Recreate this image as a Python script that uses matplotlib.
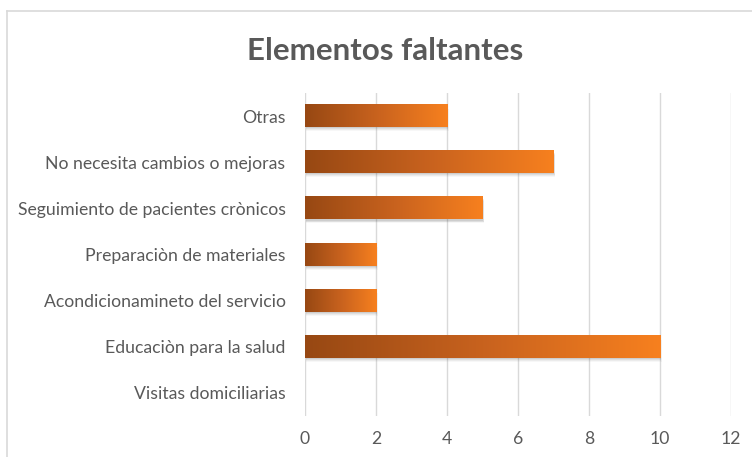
import numpy as np
import matplotlib
matplotlib.use("Agg")
import matplotlib.pyplot as plt
from matplotlib.patches import Rectangle
from matplotlib.lines import Line2D
from matplotlib.colors import LinearSegmentedColormap

# data
categories = [
    "Otras",
    "No necesita cambios o mejoras",
    "Seguimiento de pacientes crònicos",
    "Preparaciòn de materiales",
    "Acondicionamineto del servicio",
    "Educaciòn para la salud",
    "Visitas domiciliarias",
]
values = [4, 7, 5, 2, 2, 10, 0]
x_ticks = [0, 2, 4, 6, 8, 10, 12]
title = "Elementos faltantes"

plt.rcParams['font.family'] = ['Lato', 'DejaVu Sans']
text_color = '#595959'
grad = LinearSegmentedColormap.from_list('bar', ['#974813', '#c8621e', '#f7801f'])

fig = plt.figure(figsize=(7.52, 4.57), dpi=100, facecolor='white')
ax = fig.add_axes([0.4056, 0.0897, 0.5665, 0.7068])

bar_h = 0.48
ypos = np.arange(len(categories))
for y, v in zip(ypos, values):
    if v <= 0:
        continue
    # soft shadow under the bar
    for i, a in enumerate([0.10, 0.08, 0.06, 0.04]):
        off = 0.025 + i * 0.02
        ax.add_patch(Rectangle((0.02, y - bar_h / 2 + off), v + 0.01 * i, bar_h,
                               facecolor='#404040', edgecolor='none', alpha=a, zorder=2))
    ax.imshow(np.linspace(0, 1, 256).reshape(1, -1), cmap=grad, aspect='auto',
              extent=(0, v, y + bar_h / 2, y - bar_h / 2), zorder=3,
              interpolation='bilinear')

ax.set_xlim(0, 12)
ax.set_ylim(len(categories) - 0.5, -0.5)
ax.set_xticks(x_ticks)
ax.set_yticks(ypos)
ax.set_yticklabels(categories)
ax.grid(axis='x', color='#d9d9d9', linewidth=1, zorder=0)
ax.set_axisbelow(True)
for s in ax.spines.values():
    s.set_visible(False)
ax.tick_params(axis='both', length=0, labelsize=12.7, labelcolor=text_color)
ax.tick_params(axis='x', pad=11)
ax.tick_params(axis='y', pad=14)

fig.text(0.512, 0.888, title, ha='center', va='center', fontsize=22.5,
         fontweight='bold', color=text_color)

# chart frame (only top and left edge visible in the crop)
fig.add_artist(Line2D([7 / 752, 1], [1 - 11 / 457] * 2, color='#d9d9d9', lw=1.2))
fig.add_artist(Line2D([7 / 752] * 2, [0, 1 - 11 / 457], color='#d9d9d9', lw=1.2))

fig.savefig("out.png", dpi=100, facecolor='white')
